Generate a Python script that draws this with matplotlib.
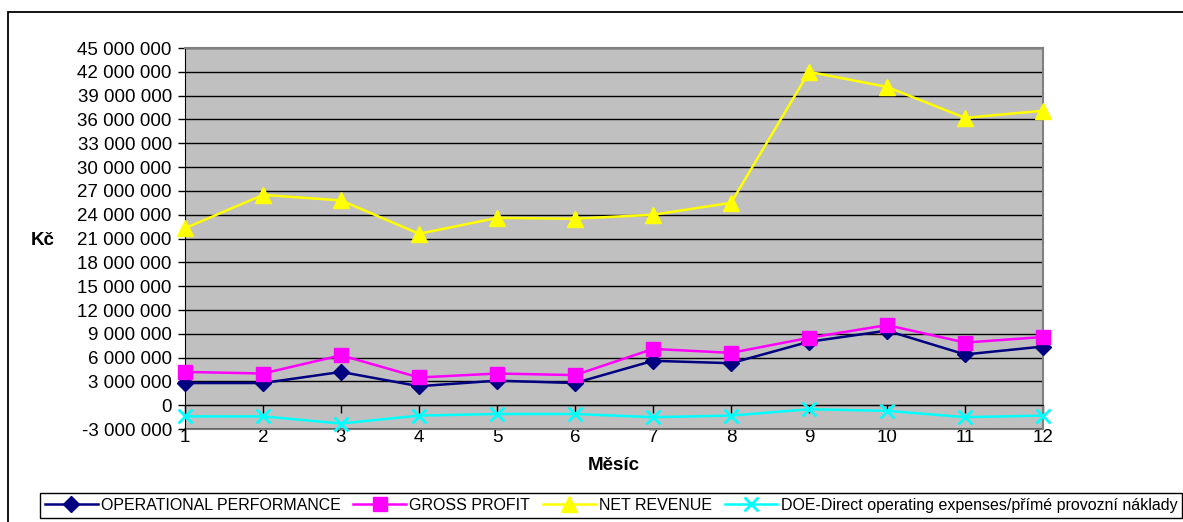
import matplotlib.pyplot as plt
import matplotlib.ticker as mticker
from matplotlib.patches import Rectangle

plt.rcParams['font.family'] = ['Liberation Sans', 'DejaVu Sans']

# měsíční hodnoty v Kč
mesice = [1, 2, 3, 4, 5, 6, 7, 8, 9, 10, 11, 12]
operational = [2.8e6, 2.8e6, 4.2e6, 2.4e6, 3.1e6, 2.8e6, 5.6e6, 5.3e6, 8.0e6, 9.4e6, 6.4e6, 7.4e6]
gross_profit = [4.2e6, 4.0e6, 6.3e6, 3.5e6, 4.0e6, 3.8e6, 7.1e6, 6.6e6, 8.5e6, 10.1e6, 7.9e6, 8.6e6]
net_revenue = [22.3e6, 26.5e6, 25.8e6, 21.6e6, 23.6e6, 23.5e6, 24.0e6, 25.5e6, 42.0e6, 40.1e6, 36.2e6, 37.1e6]
doe = [-1.4e6, -1.4e6, -2.3e6, -1.3e6, -1.1e6, -1.1e6, -1.5e6, -1.3e6, -0.5e6, -0.7e6, -1.5e6, -1.3e6]

fig = plt.figure(figsize=(11.83, 5.22), dpi=100)
ax = fig.add_axes([0.1564, 0.178, 0.7253, 0.730])
ax.set_facecolor('#C0C0C0')

ax.plot(mesice, operational, color='#000080', lw=1.8, marker='D', ms=8,
        label='OPERATIONAL PERFORMANCE', clip_on=False, zorder=5)
ax.plot(mesice, gross_profit, color='#FF00FF', lw=1.8, marker='s', ms=10,
        label='GROSS PROFIT', clip_on=False, zorder=5)
ax.plot(mesice, net_revenue, color='#FFFF00', lw=1.8, marker='^', ms=11,
        label='NET REVENUE', clip_on=False, zorder=5)
ax.plot(mesice, doe, color='#00FFFF', lw=1.8, marker='x', ms=10, mew=2,
        label='DOE-Direct operating expenses/přímé provozní náklady',
        clip_on=False, zorder=5)

ax.set_xlim(1, 12)
ax.set_ylim(-3e6, 45e6)
ax.yaxis.set_major_locator(mticker.MultipleLocator(3e6))
ax.yaxis.set_major_formatter(
    mticker.FuncFormatter(lambda v, p: f'{v:,.0f}'.replace(',', ' ').replace('\u2212', '-')))
ax.grid(axis='y', color='black', lw=1)
ax.set_axisbelow(True)
ax.tick_params(axis='y', labelsize=13.5, length=5, width=1, direction='out', pad=4.5)

for s in ('top', 'right'):
    ax.spines[s].set_color('#808080')
    ax.spines[s].set_linewidth(1.5)
ax.spines['left'].set_color('black')

# osa kategorií prochází nulou, popisky zůstávají dole
ax.spines['bottom'].set_position(('data', 0))
ax.spines['bottom'].set_color('black')
ax.set_xticks(mesice)
ax.tick_params(axis='x', length=6, width=1, direction='out', labelbottom=False)

sec = ax.secondary_xaxis(0)
sec.set_xticks(mesice)
sec.tick_params(length=0, labelsize=13.5, pad=0)
sec.spines['bottom'].set_color('#808080')
sec.spines['bottom'].set_linewidth(1.5)

fig.text(0.0364, 0.540, 'Kč', fontsize=13.5, fontweight='bold', ha='center', va='center')
fig.text(0.519, 0.109, 'Měsíc', fontsize=13.5, fontweight='bold', ha='center', va='center')

leg = fig.legend(loc='center', bbox_to_anchor=(0.5165, 0.032), ncol=4, fontsize=11.5,
                 frameon=True, fancybox=False, edgecolor='black', framealpha=1,
                 handlelength=3.3, columnspacing=0.8, handletextpad=0.2,
                 borderpad=0.3, borderaxespad=0)
leg.get_frame().set_linewidth(1)

fig.patches.append(Rectangle((0.0068, -0.2), 1.2, 1.177, transform=fig.transFigure,
                             fill=False, edgecolor='black', lw=1.3))

fig.savefig('out.png', dpi=100)
